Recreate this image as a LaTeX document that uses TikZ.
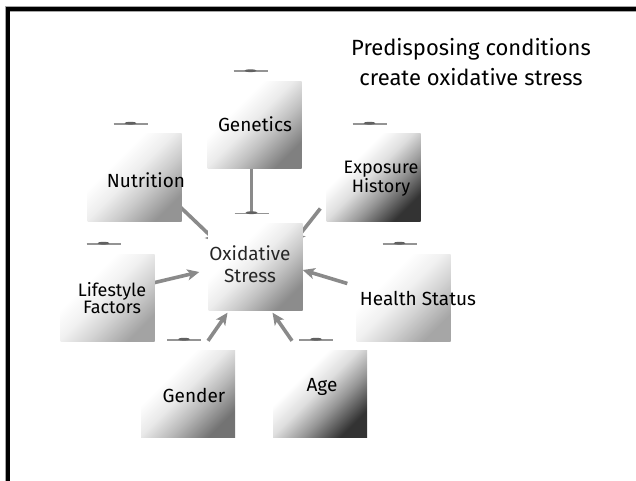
\documentclass[tikz,border=0pt]{standalone}
\usepackage{fontspec}
\setmainfont{Fira Sans}
\usetikzlibrary{arrows.meta,calc}
\pgfdeclarelayer{bg}
\pgfsetlayers{bg,main}
\colorlet{bxd}{black!50}
\pgfdeclareverticalshading[bxd]{boxshade}{100bp}{color(0bp)=(bxd); color(25bp)=(bxd); color(40bp)=(bxd!50!white); color(52bp)=(bxd!16!white); color(64bp)=(white); color(100bp)=(white)}
\begin{document}
\begin{tikzpicture}[x=1pt,y=-1pt,
  box/.style={inner sep=0pt, minimum width=94pt, minimum height=87pt,
    /utils/exec={\colorlet{bxd}{#1}}, shade, shading=boxshade, shading angle=45},
  lbl/.style={font=\fontsize{19}{16}\selectfont, align=center, inner sep=0pt},
  conn/.style={draw=black!46, line width=3.6pt},
  arr/.style={conn, -{Stealth[length=12pt,width=11pt,inset=3pt]}},
  dashline/.style={draw=black!42, line width=1.6pt},
  dashbump/.style={fill=black!62}]
\useasboundingbox (0,0) rectangle (636,481);
\newcommand\mkdash[1]{%
  \coordinate (#1-dash) at ($(#1.north)+(-4,-10)$);
  \draw[dashline] ($(#1-dash)+(-17,0)$) -- ($(#1-dash)+(17,0)$);
  \fill[dashbump] ($(#1-dash)+(0,-0.6)$) ellipse (6 and 1.4);}
% frame
\draw[line width=5.5pt, black!35] (7.5,490) -- (7.5,9) -- (645,9);
\draw[line width=4pt] (7.5,490) -- (7.5,9) -- (645,9);
% title
\node[font=\fontsize{22}{30}\selectfont, align=center, inner sep=0pt] (title) at (471,62)
  {Predisposing conditions\\create oxidative stress};
% boxes
\node[box=black!50] (gen) at (254.5,125) {};
\node[box=black!42] (nut) at (134.5,177.5) {};
\node[box=black!80] (exp) at (373.5,177.5) {};
\node[box=black!45] (oxi) at (255.5,267) {};
\node[box=black!36] (life) at (107.5,297.5) {};
\node[box=black!35] (hea) at (403.5,297.5) {};
\node[box=black!55] (gend) at (188,393.5) {};
\node[box=black!80] (age) at (320,393.5) {};
% dashes above boxes
\mkdash{gen}\mkdash{nut}\mkdash{exp}\mkdash{oxi}
\mkdash{life}\mkdash{hea}\mkdash{gend}\mkdash{age}
% labels
\node[lbl] (gent) at (255,124) {Genetics};
\node[lbl] (nutt) at (146,180) {Nutrition};
\node[lbl, font=\fontsize{18}{15}\selectfont] (expt) at (381,179) {Exposure\\History};
\node[lbl, font=\fontsize{19}{22}\selectfont, text=black!85] (oxit) at (250,264) {Oxidative\\Stress};
\node[lbl, font=\fontsize{18}{15}\selectfont] (lifet) at (112,298) {Lifestyle\\Factors};
\node[lbl] (heat) at (418,298) {Health Status};
\node[lbl] (gendt) at (194,395) {Gender};
\node[lbl] (aget) at (322,387) {Age};
% connectors
\begin{pgfonlayer}{bg}
\draw[conn] (gen.south -| oxi-dash) -- (oxi-dash);
\draw[arr] ($(nut.east)+(-3,28)$) -- ($(oxi.north west)+(9,19)$);
\draw[arr] ($(exp.west)+(-6,31)$) -- ($(oxi.north east)+(-9,19)$);
\draw[arr] ($(life.east)+(-4,-14)$) -- ($(oxi.west)+(-9,5)$);
\draw[arr] ($(hea.west)+(-9,-14)$) -- ($(oxi.east)+(0,3)$);
\draw[arr] ($(gend.north)+(20,-9)$) -- ($(oxi.south)+(-28,2)$);
\draw[arr] ($(age.north)+(-28,-9)$) -- ($(oxi.south)+(17,2)$);
\end{pgfonlayer}
\end{tikzpicture}
\end{document}
